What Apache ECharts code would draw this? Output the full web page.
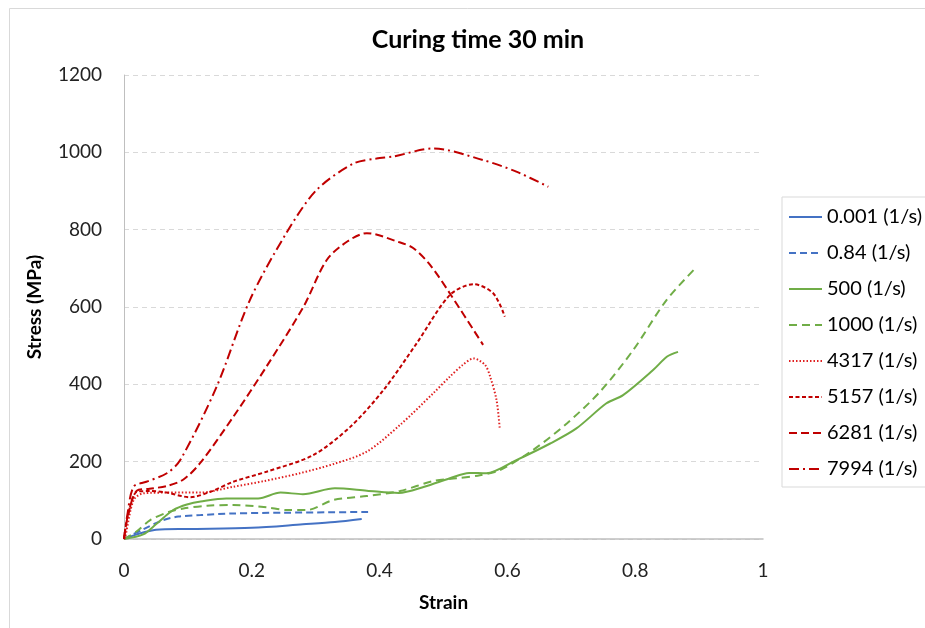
<!DOCTYPE html>
<html>
<head>
<meta charset="utf-8">
<script src="https://cdn.jsdelivr.net/npm/echarts@6/dist/echarts.min.js"></script>
<style>
  html, body { margin: 0; padding: 0; background: #fff; }
  #chart { width: 925px; height: 628px; }
</style>
</head>
<body>
<div id="chart"></div>
<script>
// strain / stress pairs, one array per strain rate
var rate0001 = [[0,0],[0.02,12],[0.05,24],[0.1,26],[0.2,29],[0.28,38],[0.33,44],[0.372,52]];
var rate084 = [[0,0],[0.03,25],[0.06,48],[0.085,58],[0.12,62],[0.17,66],[0.25,68],[0.32,69],[0.382,70]];
var rate500 = [[0,0],[0.03,12],[0.05,38],[0.077,75],[0.1,90],[0.12,97],[0.16,105],[0.21,105],[0.245,120],
  [0.28,116],[0.33,131],[0.38,125],[0.43,119],[0.47,135],[0.51,157],[0.54,171],[0.567,170],[0.614,204],
  [0.667,247],[0.708,286],[0.755,351],[0.781,372],[0.828,437],[0.85,472],[0.867,484]];
var rate1000 = [[0,0],[0.02,20],[0.041,49],[0.07,70],[0.093,79],[0.13,86],[0.171,88],[0.223,82],[0.255,75],
  [0.286,75],[0.328,101],[0.38,111],[0.432,124],[0.484,150],[0.52,157],[0.557,165],[0.588,178],[0.64,230],
  [0.693,299],[0.745,381],[0.797,489],[0.849,618],[0.894,700]];
var rate4317 = [[0,0],[0.002,6],[0.015,101],[0.03,118],[0.067,120],[0.119,120],[0.171,135],[0.22,150],
  [0.275,170],[0.33,195],[0.38,226],[0.432,295],[0.484,377],[0.51,420],[0.53,450],[0.547,467],[0.565,450],
  [0.573,420],[0.583,359],[0.588,286]];
var rate5157 = [[0,0],[0.006,60],[0.02,122],[0.04,124],[0.067,120],[0.103,108],[0.135,122],[0.171,148],
  [0.223,174],[0.296,217],[0.354,290],[0.406,385],[0.458,506],[0.51,631],[0.547,659],[0.578,635],[0.596,575]];
var rate6281 = [[0,0],[0.006,60],[0.02,125],[0.04,130],[0.067,137],[0.093,154],[0.119,196],[0.171,316],
  [0.223,446],[0.281,601],[0.317,721],[0.35,770],[0.38,791],[0.43,768],[0.453,752],[0.479,709],[0.51,635],[0.562,502]];
var rate7994 = [[0,0],[0.005,60],[0.015,135],[0.035,148],[0.067,170],[0.088,204],[0.145,394],[0.197,618],
  [0.254,791],[0.301,902],[0.359,971],[0.395,984],[0.421,989],[0.484,1010],[0.562,980],[0.614,950],[0.664,911]];

var seriesNames = ['0.001 (1/s)', '0.84 (1/s)', '500 (1/s)', '1000 (1/s)',
  '4317 (1/s)', '5157 (1/s)', '6281 (1/s)', '7994 (1/s)'];
var seriesData = [rate0001, rate084, rate500, rate1000, rate4317, rate5157, rate6281, rate7994];

// look of each curve
var looks = [
  { color: '#4472c4', type: 'solid' },
  { color: '#4472c4', type: [7, 4] },
  { color: '#70ad47', type: 'solid' },
  { color: '#70ad47', type: [8, 5] },
  { color: '#e02020', type: [1.5, 2] },
  { color: '#c00000', type: [4, 2.5] },
  { color: '#c00000', type: [8, 4] },
  { color: '#c00000', type: [10, 4, 2, 4] }
];

var font = 'Lato, "Open Sans", sans-serif';

var series = seriesData.map(function (d, i) {
  return {
    name: seriesNames[i],
    type: 'line',
    data: d,
    smooth: 0.3,
    symbol: 'none',
    color: looks[i].color,
    lineStyle: { color: looks[i].color, width: 2, type: looks[i].type },
    emphasis: { disabled: true }
  };
});

var chart = echarts.init(document.getElementById('chart'));
chart.setOption({
  animation: false,
  backgroundColor: '#fff',
  textStyle: { fontFamily: font },
  graphic: [{
    type: 'rect',
    shape: { x: 9.5, y: 8.5, width: 940, height: 640 },
    style: { fill: 'none', stroke: '#d9d9d9', lineWidth: 1 },
    silent: true
  }],
  title: {
    text: 'Curing time 30 min',
    left: 473,
    textAlign: 'center',
    top: 22,
    textStyle: { fontFamily: font, fontSize: 25, fontWeight: 'bold', color: '#000' }
  },
  grid: { left: 124, right: 162, top: 75, bottom: 89 },
  legend: {
    orient: 'vertical',
    left: 782,
    top: 197,
    padding: [10, 30, 8, 6],
    itemWidth: 33,
    itemHeight: 20,
    itemGap: 16,
    borderColor: '#d9d9d9',
    borderWidth: 1,
    itemStyle: { opacity: 0 },
    textStyle: { fontFamily: font, fontSize: 20, color: '#000', lineHeight: 20 },
    data: seriesNames
  },
  xAxis: {
    type: 'value',
    min: 0,
    max: 1,
    interval: 0.2,
    name: 'Strain',
    nameLocation: 'middle',
    nameGap: 54,
    nameTextStyle: { fontFamily: font, fontSize: 19, fontWeight: 'bold', color: '#000' },
    axisLine: { show: true, lineStyle: { color: '#bfbfbf', width: 1.5 } },
    axisTick: { show: false },
    splitLine: { show: false },
    axisLabel: { fontFamily: font, fontSize: 19, color: '#222', margin: 22 }
  },
  yAxis: {
    type: 'value',
    min: 0,
    max: 1200,
    interval: 200,
    name: 'Stress (MPa)',
    nameLocation: 'middle',
    nameGap: 80,
    nameTextStyle: { fontFamily: font, fontSize: 19, fontWeight: 'bold', color: '#000' },
    axisLine: { show: true, lineStyle: { color: '#bfbfbf', width: 1 } },
    axisTick: { show: false },
    splitLine: { show: true, lineStyle: { color: '#d9d9d9', type: [5, 4], width: 1 } },
    axisLabel: {
      fontFamily: font, fontSize: 19, color: '#222', margin: 22,
      formatter: function (v) { return String(v); }
    }
  },
  series: series
});
</script>
</body>
</html>
